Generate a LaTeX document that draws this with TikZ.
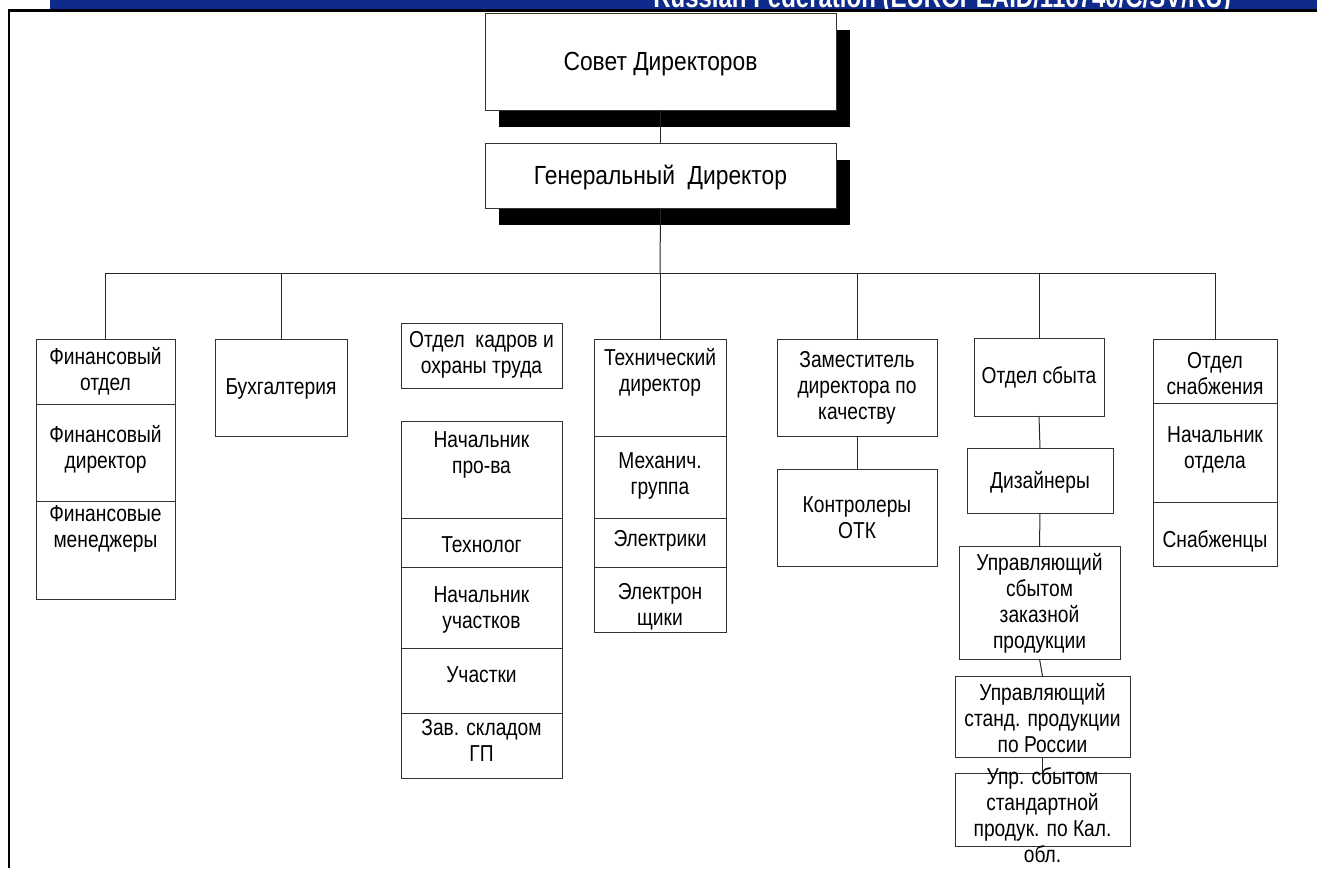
\documentclass[tikz,border=0pt]{standalone}
\usepackage{fontspec}
\setmainfont{Liberation Sans}
\definecolor{bannerblue}{RGB}{14,42,138}
\newcommand\mkcell[5]{\node[box, minimum width={(#4-#2)*1pt}, minimum height={(#5-#3)*1pt}] (#1) at (#2,#3) {};}
\begin{document}
\begin{tikzpicture}[x=1pt,y=-1pt,
  box/.style={draw=black!80, line width=0.9pt, fill=white, inner sep=0pt, outer sep=0pt, anchor=north west},
  txt/.style={font=\fontsize{19.2}{21.7}\selectfont, align=center, inner sep=0pt, yscale=1.2, transform shape},
  bigtxt/.style={font=\fontsize{22.8}{25}\selectfont, align=center, inner sep=0pt, yscale=1.15, transform shape},
  conn/.style={draw=black!85, line width=1pt},
  shadowbox/.style={fill=black}]
\useasboundingbox (0,0) rectangle (1317,868);
% banner
\begin{scope}
  \clip (50,0) rectangle (1317,9.3);
  \fill[bannerblue] (50,0) rectangle (1317,9.3);
  \node[anchor=base, text=white, inner sep=0pt, font=\bfseries\fontsize{24}{28}\selectfont, yscale=1.25, transform shape] (banner) at (942,7.8) {Russian Federation (EUROPEAID/116740/C/SV/RU)};
\end{scope}
% frame
\draw[line width=2.6pt] (9,868) -- (9,10.5) -- (1317,10.5);
% top boxes
\fill[shadowbox] (499,30) rectangle (850,127);
\fill[shadowbox] (499,160) rectangle (850,225);
\mkcell{sd}{485}{13}{836}{110}
\node[bigtxt] (t-sd) at (660.5,64) {Совет Директоров};
\mkcell{gd}{485}{143}{836}{208}
\node[bigtxt] (t-gd) at (660.5,177) {Генеральный~~Директор};
% column 1
\mkcell{fin1}{36}{339}{175}{404}
\mkcell{fin2}{36}{404}{175}{501}
\mkcell{fin3}{36}{501}{175}{599}
\node[txt] (t-fin1) at (105.5,371.5) {Финансовый\\отдел};
\node[txt] (t-fin2) at (105.5,449.5) {Финансовый\\директор};
\node[txt] (t-fin3) at (105.5,529) {Финансовые\\менеджеры};
% buh
\mkcell{buh}{215}{339}{347}{436}
\node[txt] (t-buh) at (281,389) {Бухгалтерия};
% kadry
\mkcell{kad}{401}{323}{562}{388}
\node[txt] (t-kad) at (481.5,354.5) {Отдел~~кадров и\\охраны труда};
% production column
\mkcell{pr1}{401}{421}{562}{518}
\mkcell{pr2}{401}{518}{562}{567}
\mkcell{pr3}{401}{567}{562}{648}
\mkcell{pr4}{401}{648}{562}{713}
\mkcell{pr5}{401}{713}{562}{778}
\node[txt] (t-pr1) at (481.5,454.5) {Начальник\\про-ва};
\node[txt] (t-pr2) at (481.5,545) {Технолог};
\node[txt] (t-pr3) at (481.5,610) {Начальник\\участков};
\node[txt] (t-pr4) at (481.5,675) {Участки};
\node[txt] (t-pr5) at (481.5,740.5) {Зав. складом\\ГП};
% technical column
\mkcell{te1}{594}{339}{726}{436}
\mkcell{te2}{594}{436}{726}{518}
\mkcell{te3}{594}{518}{726}{567}
\mkcell{te4}{594}{567}{726}{632}
\node[txt] (t-te1) at (660,372.5) {Технический\\директор};
\node[txt] (t-te2) at (660,476) {Механич.\\группа};
\node[txt] (t-te3) at (660,541) {Электрики};
\node[txt] (t-te4) at (660,606.5) {Электрон\\щики};
% quality
\mkcell{zam}{777}{339}{937}{436}
\node[txt] (t-zam) at (857,388) {Заместитель\\директора по\\качеству};
\mkcell{otk}{777}{469}{937}{566}
\node[txt] (t-otk) at (857,518) {Контролеры\\ОТК};
% sales
\mkcell{sb}{974}{338}{1104}{416}
\node[txt] (t-sb) at (1039,377) {Отдел сбыта};
\mkcell{diz}{967}{448}{1113}{513}
\node[txt] (t-diz) at (1040,482) {Дизайнеры};
\mkcell{up1}{959}{546}{1120}{659}
\node[txt] (t-up1) at (1039.5,603) {Управляющий\\сбытом\\заказной\\продукции};
\mkcell{up2}{955}{676}{1130}{757}
\node[txt] (t-up2) at (1042.5,718) {Управляющий\\станд. продукции\\по России};
\mkcell{up3}{955}{773}{1130}{846}
% supply
\mkcell{sn1}{1153}{339}{1277}{403}
\mkcell{sn2}{1153}{403}{1277}{502}
\mkcell{sn3}{1153}{502}{1277}{566}
\node[txt] (t-sn1) at (1215,373.5) {Отдел\\снабжения};
\node[txt] (t-sn2) at (1215,450) {Начальник\\отдела};
\node[txt] (t-sn3) at (1215,541) {Снабженцы};
% connectors
\coordinate (bus) at (660,273);
\draw[conn] (sd.south) -- (gd.north);
\draw[conn] (gd.south) -- (bus);
\draw[conn] (bus) -| (fin1.north);
\draw[conn] (bus) -| (buh.north);
\draw[conn] (bus) -- (te1.north);
\draw[conn] (bus) -| (zam.north);
\draw[conn] (bus) -| (sb.north);
\draw[conn] (bus) -| (sn1.north);
\draw[conn] (zam.south) -- (otk.north);
\draw[conn] (sb.south) -- (diz.north);
\draw[conn] (diz.south) -- (up1.north);
\draw[conn] (up1.south) -- (up2.north);
\draw[conn] (up2.south) -- (up3.north);
\node[txt] (t-up3) at (1042.5,815.5) {Упр. сбытом\\стандартной\\продук. по Кал.\\обл.};
\end{tikzpicture}
\end{document}
